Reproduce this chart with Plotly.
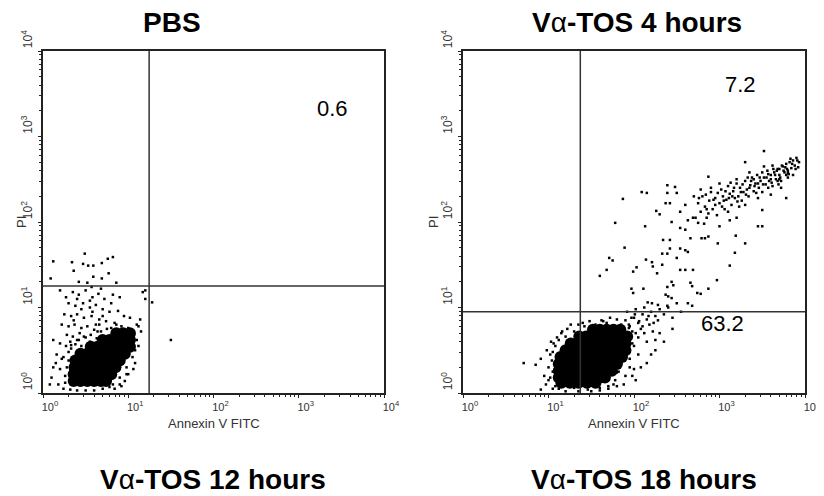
import math
import plotly.graph_objects as go

FONT = "Liberation Sans, Arial, sans-serif"

# ---------------- text / ticks ----------------
top_titles = ["<b>PBS</b>", "<b>V</b>α<b>-TOS 4 hours</b>"]
bottom_titles = ["<b>V</b>α<b>-TOS 12 hours</b>", "<b>V</b>α<b>-TOS 18 hours</b>"]
decades = [0, 1, 2, 3, 4]
tick_labels = ["10<sup>0</sup>", "10<sup>1</sup>", "10<sup>2</sup>", "10<sup>3</sup>", "10<sup>4</sup>"]
x_title = "Annexin V FITC"
y_title = "PI"

# ---------------- data (log10 fluorescence, i.e. decades) ----------------
# PBS panel: dense main population
pbs_core_annexin = [0.36, 0.44, 0.52, 0.60, 0.68, 0.74,
                    0.36, 0.44, 0.52, 0.60, 0.68, 0.76, 0.80,
                    0.37, 0.45, 0.53, 0.61, 0.69, 0.77, 0.85,
                    0.38, 0.46, 0.54, 0.62, 0.70, 0.78, 0.86, 0.90,
                    0.44, 0.52, 0.60, 0.68, 0.76, 0.84, 0.92, 0.96,
                    0.56, 0.64, 0.72, 0.80, 0.88, 0.96, 1.02,
                    0.70, 0.78, 0.86, 0.94, 1.02,
                    0.86, 0.94, 1.02]
pbs_core_pi = [0.14, 0.14, 0.14, 0.14, 0.14, 0.14,
               0.22, 0.22, 0.22, 0.22, 0.22, 0.22, 0.22,
               0.30, 0.30, 0.30, 0.30, 0.30, 0.30, 0.30,
               0.38, 0.38, 0.38, 0.38, 0.38, 0.38, 0.38, 0.38,
               0.46, 0.46, 0.46, 0.46, 0.46, 0.46, 0.46, 0.46,
               0.54, 0.54, 0.54, 0.54, 0.54, 0.54, 0.54,
               0.62, 0.62, 0.62, 0.62, 0.62,
               0.70, 0.70, 0.70]
# PBS panel: scattered events
pbs_sparse_annexin = [0.12, 0.49, 0.34, 0.47, 0.53, 0.59, 0.69, 0.76, 0.82, 0.36, 0.77, 0.09, 0.59, 0.69,
                      0.42, 0.52, 0.86, 0.57,
                      0.35, 0.42, 0.50, 0.58, 0.65, 0.72, 0.80, 0.30, 0.38, 0.47, 0.55, 0.62, 0.70, 0.78,
                      0.88, 0.95, 1.02, 1.10, 0.25, 0.33, 0.40, 0.48, 0.57, 0.66, 0.74, 0.84, 0.92, 1.00,
                      1.06, 0.22, 0.30, 0.37, 0.45, 0.52, 0.60, 0.68, 1.04, 0.28, 0.35, 0.42, 0.50, 0.20,
                      0.27, 0.33, 0.16, 0.24, 0.30, 0.12, 0.20, 0.26, 0.10, 0.18, 0.24, 0.15, 0.08, 0.70,
                      0.82, 0.90, 0.98, 1.05, 1.12, 0.92, 1.00, 0.60, 0.50, 0.40, 1.08, 1.15, 1.17, 1.20,
                      0.12, 0.32, 0.45, 0.55, 0.63, 0.75, 0.85, 0.95, 1.00, 0.58, 0.45, 0.36, 0.62, 0.70,
                      0.40, 0.55, 0.68, 0.82, 0.90, 0.27, 0.20, 1.50, 1.28, 1.20,
                      0.26, 0.28, 0.30, 0.33, 0.40, 0.48, 0.56, 0.64, 0.80, 0.86, 0.90, 0.96, 1.08, 1.10,
                      1.12, 1.14, 1.06, 0.98, 0.32, 0.22, 0.84, 0.78, 0.66, 0.43, 0.38]
pbs_sparse_pi = [1.54, 1.63, 1.53, 1.51, 1.49, 1.49, 1.52, 1.57, 1.59, 1.43, 1.40, 1.34, 1.36, 1.34,
                 1.30, 1.29, 1.29, 1.24,
                 1.18, 1.15, 1.20, 1.12, 1.16, 1.10, 1.05, 1.05, 1.02, 1.05, 1.00, 1.03, 0.98, 0.95,
                 0.96, 0.90, 0.88, 0.80, 0.92, 0.90, 0.92, 0.88, 0.90, 0.86, 0.84, 0.82, 0.78, 0.76,
                 0.70, 0.80, 0.78, 0.80, 0.76, 0.78, 0.74, 0.72, 0.62, 0.68, 0.66, 0.62, 0.65, 0.58,
                 0.55, 0.52, 0.45, 0.42, 0.38, 0.30, 0.28, 0.20, 0.18, 0.10, 0.05, 0.35, 0.10, 0.05,
                 0.10, 0.18, 0.30, 0.42, 0.55, 0.08, 0.22, 0.03, 0.03, 0.03, 0.50, 0.72, 1.18, 1.10,
                 0.62, 0.60, 0.55, 0.60, 0.64, 0.75, 0.72, 0.70, 0.60, 0.95, 0.98, 0.85, 0.80, 0.90,
                 1.10, 1.08, 1.22, 1.15, 1.12, 1.12, 1.20, 0.62, 1.06, 1.20,
                 0.12, 0.30, 0.48, 0.56, 0.62, 0.66, 0.68, 0.72, 0.76, 0.80, 0.10, 0.14, 0.35, 0.62,
                 0.78, 0.86, 0.28, 0.22, 0.04, 0.40, 0.05, 0.07, 0.80, 0.70, 0.57]
pbs_gate_annexin = 1.245
pbs_gate_pi = 1.251
pbs_quadrant_label = "0.6"

# Va-TOS 4 hours panel: dense main population
tos4_core_annexin = [1.15, 1.25, 1.35, 1.45, 1.55,
                     1.12, 1.20, 1.28, 1.36, 1.44, 1.52, 1.60, 1.66,
                     1.12, 1.20, 1.28, 1.36, 1.44, 1.52, 1.60, 1.68, 1.74,
                     1.12, 1.20, 1.28, 1.36, 1.44, 1.52, 1.60, 1.68, 1.76, 1.80,
                     1.14, 1.22, 1.30, 1.38, 1.46, 1.54, 1.62, 1.70, 1.78, 1.86,
                     1.20, 1.28, 1.36, 1.44, 1.52, 1.60, 1.68, 1.76, 1.84, 1.90,
                     1.26, 1.34, 1.42, 1.50, 1.58, 1.66, 1.74, 1.82, 1.90,
                     1.36, 1.44, 1.52, 1.60, 1.68, 1.76, 1.84, 1.92,
                     1.52, 1.60, 1.68, 1.76, 1.84]
tos4_core_pi = [0.12, 0.12, 0.12, 0.12, 0.12,
                0.18, 0.18, 0.18, 0.18, 0.18, 0.18, 0.18, 0.18,
                0.26, 0.26, 0.26, 0.26, 0.26, 0.26, 0.26, 0.26, 0.26,
                0.34, 0.34, 0.34, 0.34, 0.34, 0.34, 0.34, 0.34, 0.34, 0.34,
                0.42, 0.42, 0.42, 0.42, 0.42, 0.42, 0.42, 0.42, 0.42, 0.42,
                0.50, 0.50, 0.50, 0.50, 0.50, 0.50, 0.50, 0.50, 0.50, 0.50,
                0.58, 0.58, 0.58, 0.58, 0.58, 0.58, 0.58, 0.58, 0.58,
                0.66, 0.66, 0.66, 0.66, 0.66, 0.66, 0.66, 0.66,
                0.74, 0.74, 0.74, 0.74, 0.74]
# Va-TOS 4 hours panel: scattered events
tos4_sparse_annexin = [
    # late apoptotic / necrotic cluster
    2.72, 2.75, 2.78, 2.80, 2.83, 2.85, 2.88, 2.90, 2.92, 2.95, 2.97, 3.00, 3.02, 3.04, 3.06, 3.08,
    3.10, 3.12, 3.14, 3.16, 3.18, 3.20, 3.22, 3.24, 3.26, 3.28, 3.30, 3.32, 3.34, 3.36, 3.38, 3.40,
    3.42, 3.44, 3.46, 3.48, 3.50, 3.52, 3.54, 3.56, 3.58, 3.60, 3.62, 3.64, 3.66, 3.68, 3.70, 3.72,
    3.74, 3.76, 3.78, 3.80, 3.82, 3.84, 3.86, 3.88, 3.90, 3.70, 3.75, 3.65, 3.60, 3.55, 3.45, 3.35,
    3.25, 3.15, 3.05, 2.95, 2.85, 3.62, 3.50, 3.40, 2.90, 3.00, 3.10, 3.30, 3.45, 3.60, 3.72, 3.86,
    3.92, 2.78, 2.70, 3.20, 3.35, 3.52, 3.80, 2.82, 3.00, 3.12, 3.68, 3.70, 3.78, 3.80,
    2.76, 2.84, 2.93, 2.98, 3.03, 3.07, 3.11, 3.17, 3.21, 3.27, 3.31, 3.37, 3.41, 3.47, 3.51, 3.57,
    3.61, 3.67, 3.71, 3.77, 3.81, 3.85, 3.89, 3.93, 3.63, 3.73, 3.83, 3.57, 3.43, 3.23, 2.87, 3.13,
    3.33, 3.69, 3.79, 3.91,
    # scattered upper region
    3.52, 1.87, 2.09, 2.15, 1.78, 2.13, 1.89, 2.26, 2.30, 2.39, 2.39, 2.48, 2.50, 2.42, 2.37, 2.54,
    2.60, 2.44, 2.54, 2.60, 2.63, 2.69, 2.75, 2.87, 3.30, 3.20, 3.50, 3.45, 3.50, 3.78, 3.19, 3.30,
    3.18, 3.12, 2.97, 2.98, 2.87, 2.83, 2.79, 2.66, 2.63, 2.60, 2.54, 2.50, 2.42, 2.42, 2.34, 2.39,
    2.33, 2.33, 2.21, 2.22, 2.27, 2.03, 1.99, 2.14, 1.71, 1.75, 1.68, 1.60, 2.54, 2.60, 2.69, 2.66,
    2.68, 2.74, 2.78, 2.87, 2.44, 2.46, 2.39, 2.37, 2.40, 2.44, 2.50, 2.39, 2.28, 2.21, 2.16, 2.63,
    2.68, 1.99, 1.97, 2.11,
    # trail leaving the main population
    1.85, 1.90, 1.95, 2.00, 2.05, 2.10, 2.15, 2.20, 2.25, 2.30, 1.92, 2.02, 2.12, 1.98, 2.08, 2.18,
    2.28, 2.35, 2.40, 1.88, 1.95, 2.05, 2.12, 2.22, 1.80, 1.75, 2.45, 2.55, 2.15, 2.25,
    2.01, 2.06, 1.97, 2.10, 1.94, 2.17, 2.23,
    # periphery of the main population
    0.71, 0.85, 0.91, 0.91, 0.95, 0.98, 0.97, 1.00, 1.02, 1.03, 1.05, 1.08, 1.10, 1.15, 1.20, 1.22,
    1.30, 1.35, 1.42, 1.48, 1.55, 1.62, 1.68, 1.72, 1.78, 1.82, 1.90, 1.92, 1.88, 1.85, 1.95, 2.00,
    2.05, 1.82, 1.78, 1.90, 2.00, 2.08, 2.15, 2.20, 1.70, 1.80, 1.60, 1.50, 1.35, 1.20, 1.88, 2.02,
    2.25, 2.35, 1.72, 1.68, 1.00, 1.05, 2.45, 2.30, 1.45, 1.58, 1.12, 1.95,
    1.02, 1.04, 1.06, 1.08, 1.10, 1.16, 1.26, 1.40, 1.64, 1.76, 1.80, 1.86, 1.96, 1.98, 2.02, 1.94,
    1.98, 1.05, 1.12, 1.30, 1.46, 1.60, 1.70, 1.55]
tos4_sparse_pi = [
    2.05, 2.22, 2.12, 2.30, 2.18, 2.05, 2.25, 2.35, 2.15, 2.28, 2.08, 2.22, 2.38, 2.30, 2.15, 2.26,
    2.42, 2.33, 2.20, 2.36, 2.28, 2.45, 2.30, 2.40, 2.25, 2.35, 2.48, 2.38, 2.30, 2.43, 2.52, 2.36,
    2.45, 2.55, 2.40, 2.48, 2.35, 2.52, 2.44, 2.60, 2.48, 2.55, 2.42, 2.58, 2.50, 2.62, 2.55, 2.48,
    2.65, 2.58, 2.68, 2.60, 2.70, 2.63, 2.72, 2.66, 2.75, 2.62, 2.60, 2.55, 2.50, 2.52, 2.45, 2.40,
    2.35, 2.30, 2.25, 2.20, 2.15, 2.66, 2.58, 2.50, 2.40, 2.45, 2.12, 2.20, 2.28, 2.32, 2.40, 2.55,
    2.64, 2.38, 2.30, 2.50, 2.58, 2.65, 2.52, 1.98, 1.95, 2.02, 2.48, 2.50, 2.55, 2.57,
    2.28, 2.32, 2.26, 2.34, 2.18, 2.36, 2.28, 2.40, 2.24, 2.44, 2.32, 2.48, 2.42, 2.52, 2.44, 2.56,
    2.46, 2.60, 2.52, 2.64, 2.56, 2.68, 2.62, 2.70, 2.62, 2.66, 2.74, 2.40, 2.34, 2.18, 2.10, 2.46,
    2.52, 2.44, 2.62, 2.72,
    2.83, 2.27, 2.35, 2.34, 1.99, 1.95, 1.70, 2.13, 2.09, 2.43, 2.34, 2.41, 2.34, 2.22, 2.22, 2.12,
    2.20, 2.00, 1.93, 1.91, 2.02, 2.05, 1.99, 2.53, 2.70, 2.05, 2.14, 1.95, 1.95, 2.28, 1.84, 1.75,
    1.64, 1.49, 1.32, 1.75, 1.83, 1.81, 1.81, 1.81, 1.65, 1.67, 1.69, 1.58, 1.79, 1.69, 1.79, 1.63,
    1.63, 1.50, 1.53, 1.48, 1.40, 1.47, 1.42, 1.56, 1.58, 1.55, 1.44, 1.37, 1.44, 1.44, 1.44, 1.29,
    1.25, 1.17, 1.16, 1.22, 1.30, 1.26, 1.24, 1.15, 1.13, 1.11, 1.05, 1.02, 1.03, 1.05, 1.06, 1.05,
    1.02, 1.17, 1.22, 1.22,
    0.80, 0.85, 0.78, 0.88, 0.82, 0.92, 0.86, 0.95, 0.90, 0.98, 0.95, 0.98, 1.00, 0.72, 0.75, 0.80,
    0.85, 0.92, 1.00, 0.68, 0.62, 0.65, 0.70, 0.72, 0.86, 0.78, 0.88, 0.95, 0.60, 0.62,
    0.92, 0.84, 0.88, 0.78, 0.80, 0.90, 0.82,
    0.35, 0.33, 0.04, 0.40, 0.20, 0.50, 0.10, 0.30, 0.45, 0.60, 0.05, 0.55, 0.65, 0.70, 0.66, 0.75,
    0.72, 0.80, 0.78, 0.84, 0.80, 0.85, 0.82, 0.88, 0.75, 0.70, 0.62, 0.52, 0.45, 0.35, 0.40, 0.55,
    0.45, 0.25, 0.15, 0.20, 0.28, 0.30, 0.35, 0.45, 0.05, 0.08, 0.03, 0.02, 0.02, 0.02, 0.10, 0.15,
    0.50, 0.60, 0.30, 0.18, 0.15, 0.25, 0.75, 0.70, 0.68, 0.72, 0.05, 0.30,
    0.18, 0.38, 0.58, 0.08, 0.28, 0.72, 0.80, 0.82, 0.84, 0.10, 0.24, 0.46, 0.66, 0.58, 0.70, 0.76,
    0.20, 0.48, 0.62, 0.06, 0.04, 0.06, 0.08, 0.76]
tos4_gate_annexin = 1.372
tos4_gate_pi = 0.951
tos4_upper_label = "7.2"
tos4_lower_label = "63.2"

# ---------------- figure ----------------
# the page body keeps its default 8px margin, so the figure is 8px smaller than the window
OFF = 8
W, H = 824 - OFF, 496 - OFF


def fx(px):
    return (px - OFF) / W


def fy(py):
    return 1 - (py - OFF) / H


fig = go.Figure()

panels = [
    dict(xa="x", ya="y", core=(pbs_core_annexin, pbs_core_pi),
         sparse=(pbs_sparse_annexin, pbs_sparse_pi), gate=(pbs_gate_annexin, pbs_gate_pi)),
    dict(xa="x2", ya="y2", core=(tos4_core_annexin, tos4_core_pi),
         sparse=(tos4_sparse_annexin, tos4_sparse_pi), gate=(tos4_gate_annexin, tos4_gate_pi)),
]

for p in panels:
    fig.add_trace(go.Scatter(x=p["core"][0], y=p["core"][1], mode="markers", xaxis=p["xa"], yaxis=p["ya"],
                             marker=dict(size=12, color="black", line=dict(width=0)), hoverinfo="skip",
                             showlegend=False))
    fig.add_trace(go.Scatter(x=p["sparse"][0], y=p["sparse"][1], mode="markers", xaxis=p["xa"], yaxis=p["ya"],
                             marker=dict(size=2.5, symbol="square", color="black", line=dict(width=0)),
                             hoverinfo="skip", showlegend=False))
    gx, gy = p["gate"]
    fig.add_shape(type="line", xref=p["xa"], yref=p["ya"], x0=gx, x1=gx, y0=0, y1=4,
                  line=dict(color="#333333", width=1.5))
    fig.add_shape(type="line", xref=p["xa"], yref=p["ya"], x0=0, x1=4, y0=gy, y1=gy,
                  line=dict(color="#333333", width=1.5))

minor_vals = [n + math.log10(k) for n in range(4) for k in range(2, 10)]


def axis_common():
    return dict(range=[0, 4], tickmode="array", tickvals=decades, ticktext=tick_labels,
                showline=True, linecolor="#222222", linewidth=1.5, mirror=True,
                ticks="outside", ticklen=3, tickwidth=1, tickcolor="#222222",
                minor=dict(tickmode="array", tickvals=minor_vals, ticks="outside", ticklen=2,
                           tickcolor="#222222", showgrid=False),
                showgrid=False, zeroline=False, fixedrange=True, automargin=False,
                tickfont=dict(family=FONT, size=11, color="#333333"))


px_dom = [(43, 384), (463, 805)]
ydom = [fy(393), fy(51)]

for i, (a, b) in enumerate(px_dom):
    xs = "xaxis" if i == 0 else "xaxis2"
    ys = "yaxis" if i == 0 else "yaxis2"
    xa = axis_common()
    xa.update(domain=[fx(a), fx(b)], anchor="y" if i == 0 else "y2", ticklabelshift=7)
    ya = axis_common()
    ya.update(domain=ydom, anchor="x" if i == 0 else "x2", tickangle=-90, ticklabelshift=-10,
              ticklabelstandoff=1, tickfont=dict(family=FONT, size=12, color="#333333"))
    fig.update_layout(**{xs: xa, ys: ya})

annotations = []
centers = [(43 + 384) / 2, (463 + 805) / 2]
for t, cx in zip(top_titles, [172, 637]):
    annotations.append(dict(text=t, x=fx(cx), y=fy(23), xref="paper", yref="paper", showarrow=False,
                            xanchor="center", yanchor="middle",
                            font=dict(family=FONT, size=28, color="black")))
for t, cx in zip(bottom_titles, [213, 644]):
    annotations.append(dict(text=t, x=fx(cx), y=fy(479), xref="paper", yref="paper", showarrow=False,
                            xanchor="center", yanchor="middle",
                            font=dict(family=FONT, size=28, color="black")))
for cx in centers:
    annotations.append(dict(text=x_title, x=fx(cx), y=fy(423), xref="paper", yref="paper",
                            showarrow=False, xanchor="center", yanchor="middle",
                            font=dict(family=FONT, size=13, color="#333333")))
for px in [21, 433]:
    annotations.append(dict(text=y_title, x=fx(px), y=fy(222), xref="paper", yref="paper",
                            showarrow=False, xanchor="center", yanchor="middle", textangle=-90,
                            font=dict(family=FONT, size=13, color="#333333")))
annotations.append(dict(text=pbs_quadrant_label, x=3.40, y=3.33, xref="x", yref="y", showarrow=False,
                        font=dict(family=FONT, size=22, color="black")))
annotations.append(dict(text=tos4_upper_label, x=3.24, y=3.61, xref="x2", yref="y2", showarrow=False,
                        font=dict(family=FONT, size=22, color="black")))
annotations.append(dict(text=tos4_lower_label, x=3.03, y=0.81, xref="x2", yref="y2", showarrow=False,
                        font=dict(family=FONT, size=22, color="black")))

fig.update_layout(width=W, height=H, margin=dict(l=0, r=0, t=0, b=0, autoexpand=False),
                  paper_bgcolor="white", plot_bgcolor="white", annotations=annotations,
                  font=dict(family=FONT), showlegend=False)

fig.write_html("out.html", config={"displayModeBar": False})
